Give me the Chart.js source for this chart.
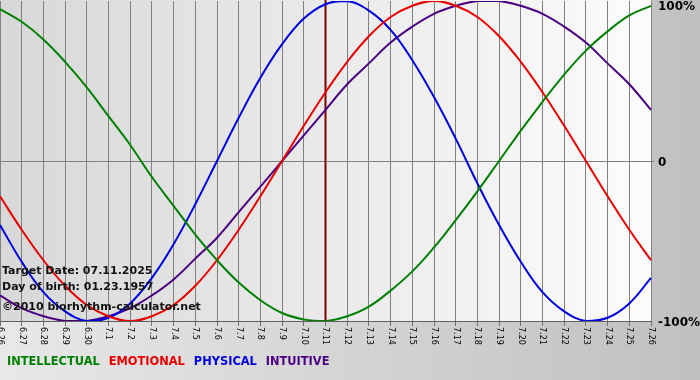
<!DOCTYPE html>
<html>
<head>
<meta charset="utf-8">
<script src="https://cdn.jsdelivr.net/npm/chart.js@4/dist/chart.umd.min.js"></script>
<style>
  html, body { margin: 0; padding: 0; background: #d0d0d0; }
  #wrap { width: 700px; height: 380px; position: relative; }
</style>
</head>
<body>
<div id="wrap"><canvas id="c" width="700" height="380"></canvas></div>
<script>
// ---- data ----
const dateLabels = ['6.26','6.27','6.28','6.29','6.30','7.1','7.2','7.3','7.4','7.5','7.6','7.7','7.8','7.9','7.10','7.11','7.12','7.13','7.14','7.15','7.16','7.17','7.18','7.19','7.20','7.21','7.22','7.23','7.24','7.25','7.26'];
const intellectual = [95,87,76,62,46,28,10,-10,-28,-46,-62,-76,-87,-95,-99,-100,-97,-91,-81,-69,-54,-37,-19,0,19,37,54,69,81,91,97];
const emotional    = [-22,-43,-62,-78,-90,-97,-100,-97,-90,-78,-62,-43,-22,0,22,43,62,78,90,97,100,97,90,78,62,43,22,0,-22,-43,-62];
const physical     = [-40,-63,-82,-94,-100,-98,-89,-73,-52,-27,0,27,52,73,89,98,100,94,82,63,40,14,-14,-40,-63,-82,-94,-100,-98,-89,-73];
const intuitive    = [-84,-92,-97,-100,-100,-97,-92,-84,-74,-61,-48,-32,-16,0,16,32,48,61,74,84,92,97,100,100,97,92,84,74,61,48,32];
const yTickValues  = [100, 0, -100];
const yTickLabels  = ['100%', '0', '-100%'];
const seriesNames  = ['INTELLECTUAL', 'EMOTIONAL', 'PHYSICAL', 'INTUITIVE'];
const seriesColors = ['#008000', '#e80000', '#0000dd', '#4b0082'];
const targetDate   = '7.11';
const infoLines    = ['Target Date: 07.11.2025', 'Day of birth: 01.23.1957', '\u00A92010 biorhythm-calculator.net'];

const seriesData = [intellectual, emotional, physical, intuitive];

const decorPlugin = {
  id: 'decor',
  beforeDraw(chart) {
    const ctx = chart.ctx, a = chart.chartArea;
    ctx.save();
    let g = ctx.createLinearGradient(0, 0, chart.width, 0);
    g.addColorStop(0, '#e8e8e8');
    g.addColorStop(1, '#c0c0c0');
    ctx.fillStyle = g;
    ctx.fillRect(0, 0, chart.width, chart.height);
    g = ctx.createLinearGradient(a.left, 0, a.right, 0);
    g.addColorStop(0, '#d8d8d8');
    g.addColorStop(1, '#fcfcfc');
    ctx.fillStyle = g;
    ctx.fillRect(a.left, a.top - 1, a.right - a.left, a.bottom - a.top + 1);
    ctx.restore();
  },
  beforeDatasetsDraw(chart) {
    const ctx = chart.ctx, a = chart.chartArea;
    const x = chart.scales.x.getPixelForValue(dateLabels.indexOf(targetDate));
    ctx.save();
    ctx.strokeStyle = '#800000';
    ctx.lineWidth = 2;
    ctx.beginPath();
    ctx.moveTo(x, 0);
    ctx.lineTo(x, a.bottom);
    ctx.stroke();
    ctx.restore();
  },
  afterDraw(chart) {
    const ctx = chart.ctx, a = chart.chartArea;
    const xs = chart.scales.x, ys = chart.scales.y;
    ctx.save();
    // x labels, rotated clockwise
    ctx.fillStyle = '#000';
    ctx.font = '8px "DejaVu Sans"';
    ctx.textAlign = 'left';
    ctx.textBaseline = 'middle';
    dateLabels.forEach((lab, i) => {
      const x = xs.getPixelForValue(i);
      ctx.save();
      ctx.translate(x, a.bottom + 6);
      ctx.rotate(Math.PI / 2);
      ctx.fillText(lab, 0, 0);
      ctx.restore();
    });
    // y labels
    ctx.font = 'bold 12px "DejaVu Sans"';
    ctx.textBaseline = 'middle';
    yTickValues.forEach((v, i) => {
      let y = ys.getPixelForValue(v) + 1.5;
      y = Math.max(y, 7);
      ctx.fillText(yTickLabels[i], a.right + 7, y);
    });
    // info text
    ctx.font = 'bold 11px "DejaVu Sans"';
    ctx.fillStyle = '#111';
    const infoY = [271, 287, 307];
    infoLines.forEach((t, i) => ctx.fillText(t, 2, infoY[i]));
    // legend
    ctx.font = 'bold 11.4px "DejaVu Sans"';
    let lx = 7;
    seriesNames.forEach((n, i) => {
      ctx.fillStyle = seriesColors[i];
      ctx.fillText(n, lx, 362);
      lx += ctx.measureText(n).width + 9;
    });
    ctx.restore();
  }
};

new Chart(document.getElementById('c'), {
  type: 'line',
  data: {
    labels: dateLabels,
    datasets: seriesNames.map((n, i) => ({
      label: n,
      data: seriesData[i],
      borderColor: seriesColors[i],
      backgroundColor: seriesColors[i],
      borderWidth: 2,
      pointRadius: 0,
      tension: 0.4,
      fill: false
    }))
  },
  options: {
    responsive: false,
    animation: false,
    layout: { padding: { top: 1, left: 0, right: 0, bottom: 0 } },
    plugins: { legend: { display: false }, tooltip: { enabled: false } },
    scales: {
      x: {
        offset: false,
        ticks: { display: false },
        grid: { color: '#808080', lineWidth: 1, drawTicks: true, tickLength: 5, tickColor: '#707070' },
        border: { display: true, color: '#606060', width: 1 },
        afterFit(s) { s.height = 59; }
      },
      y: {
        position: 'right',
        min: -100,
        max: 100,
        ticks: { display: false, stepSize: 100 },
        grid: {
          color: (c) => (c.tick && c.tick.value === 0) ? '#808080' : 'rgba(0,0,0,0)',
          drawTicks: true,
          tickLength: 3
        },
        border: { display: false },
        afterFit(s) { s.width = 49; s.paddingTop = 0; s.paddingBottom = 0; }
      }
    }
  },
  plugins: [decorPlugin]
});
</script>
</body>
</html>
